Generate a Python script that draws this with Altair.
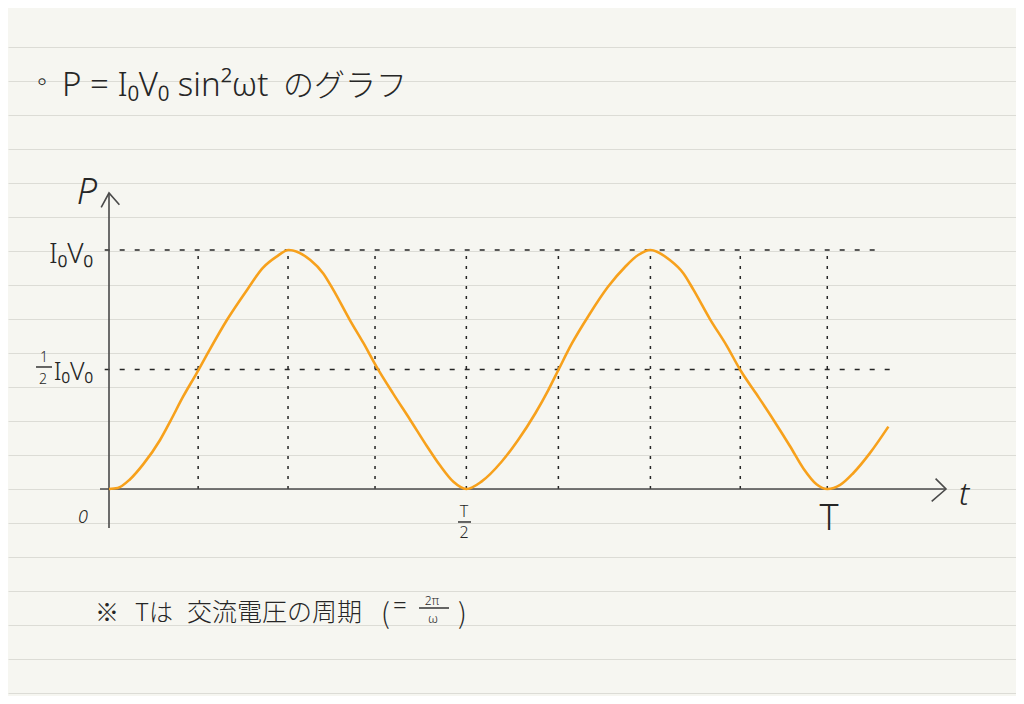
import altair as alt
import pandas as pd

# ---- values (t in units of T, P in units of I0V0) ----
curve_t = [0.0, 0.012, 0.029, 0.048, 0.071, 0.085, 0.103, 0.122, 0.136, 0.164, 0.192, 0.214, 0.233, 0.250,
           0.280, 0.298, 0.312, 0.335, 0.354, 0.372, 0.395, 0.419, 0.442, 0.460, 0.479, 0.497,
           0.518, 0.546, 0.569, 0.593, 0.611, 0.625, 0.644, 0.667, 0.694, 0.718, 0.736, 0.753,
           0.780, 0.799, 0.813, 0.836, 0.859, 0.878, 0.901, 0.924, 0.947, 0.966, 0.984, 0.999,
           1.017, 1.035, 1.058, 1.084]
curve_p = [0.0, 0.004, 0.040, 0.105, 0.205, 0.282, 0.386, 0.485, 0.561, 0.707, 0.833, 0.925, 0.972, 1.0,
           0.958, 0.902, 0.833, 0.707, 0.610, 0.512, 0.400, 0.289, 0.180, 0.100, 0.030, 0.0,
           0.031, 0.114, 0.205, 0.317, 0.414, 0.498, 0.610, 0.725, 0.846, 0.930, 0.979, 1.0,
           0.958, 0.902, 0.833, 0.710, 0.600, 0.498, 0.395, 0.290, 0.180, 0.085, 0.020, 0.0,
           0.017, 0.066, 0.149, 0.261]

guide_t = [0.124, 0.249, 0.370, 0.497, 0.625, 0.753, 0.878, 0.999]   # vertical dotted guides
level_p = [1.0, 0.5]                                                   # horizontal dashed guides
level_t0 = [-0.006, -0.006]
level_t1 = [1.070, 1.088]

# ---- layout (scale domains chosen so the drawing sits where the sketch has it) ----
W, H = 1008, 688
X0 = -101 / 719
X1 = X0 + W / 719
Y0 = (489 - 696) / 239
Y1 = (489 - 8) / 239
ruled = [k * 34 / 239 for k in range(-6, 14)]   # notebook ruling

INK = "#262626"
AXIS = "#4a4a4a"
ORANGE = "#f7a11c"
PAPER = "#f6f6f1"
JP = "Noto Sans CJK JP"
LAT = "Noto Sans"

xs = alt.Scale(domain=[X0, X1], nice=False, zero=False)
ys = alt.Scale(domain=[Y0, Y1], nice=False, zero=False)
yaxis = alt.Axis(values=ruled, grid=True, labels=False, ticks=False, domain=False,
                 gridColor="#dcdcd6", gridWidth=1.2, title=None)


def X(f):
    return alt.X(f, type="quantitative", scale=xs, axis=None)


def Y(f):
    return alt.Y(f, type="quantitative", scale=ys, axis=yaxis)


curve_df = pd.DataFrame({"t": curve_t, "P": curve_p})
guides_df = pd.DataFrame({"t": guide_t, "p0": [0.0] * len(guide_t), "p1": [1.0] * len(guide_t)})
levels_df = pd.DataFrame({"P": level_p, "t0": level_t0, "t1": level_t1})
axes_df = pd.DataFrame({"t0": [0.0, -0.0125], "t1": [0.0, 1.1641],
                        "p0": [-0.163, 0.0], "p1": [1.2385, 0.0]})

levels = alt.Chart(levels_df).mark_rule(color=INK, strokeWidth=1.5, strokeDash=[5, 10]).encode(
    x=X("t0"), x2="t1", y=Y("P"))
guides = alt.Chart(guides_df).mark_rule(color=INK, strokeWidth=1.5, strokeDash=[3, 7]).encode(
    x=X("t"), y=Y("p0"), y2="p1")
axes = alt.Chart(axes_df).mark_rule(color=AXIS, strokeWidth=1.6).encode(
    x=X("t0"), x2="t1", y=Y("p0"), y2="p1")
curve = alt.Chart(curve_df).mark_line(color=ORANGE, strokeWidth=2.6, interpolate="monotone").encode(
    x=X("t"), y=Y("P"))

arrow_up = alt.Chart(pd.DataFrame({"t": [0.0], "P": [1.2385]})).mark_point(
    shape="M -0.6 1.1 L 0 0 L 0.8 0.9", size=676, filled=False, color=AXIS, strokeWidth=1.6, opacity=1
).encode(x=X("t"), y=Y("P"))
arrow_right = alt.Chart(pd.DataFrame({"t": [1.1641], "P": [0.0]})).mark_point(
    shape="M -0.8 -0.8 L 0 0 L -1.1 0.95", size=676, filled=False, color=AXIS, strokeWidth=1.6, opacity=1
).encode(x=X("t"), y=Y("P"))


def texts(rows, align="center", style="normal", font=JP, weight=300):
    df = pd.DataFrame(rows, columns=["text", "t", "P", "size"])
    return alt.Chart(df).mark_text(align=align, baseline="alphabetic", font=font, fontStyle=style,
                                   fontWeight=weight, color=INK).encode(
        x=X("t"), y=Y("P"), text="text:N", size=alt.Size("size:Q", scale=None))


# label rows: text, t, P, font size
title_math = texts([["P = I₀V₀ sin²ωt", -0.0654, 1.645, 33]], align="left", font=LAT)
title_jp = texts([["のグラフ", 0.242, 1.645, 31]], align="left")
bullet = texts([["∘", -0.0932, 1.67, 26]], font="DejaVu Sans")

axis_titles = texts([["P", -0.0306, 1.1925, 36], ["t", 1.1892, -0.0669, 32]], style="italic", font=LAT)
zero = texts([["0", -0.0362, -0.1423, 18]], style="italic", font=LAT)
ytick = texts([["I₀V₀", -0.0223, 0.9456, 28], ["I₀V₀", -0.0223, 0.456, 25]], align="right", font=LAT)
half = texts([["1", -0.0904, 0.530, 14], ["2", -0.0918, 0.441, 14]], font=LAT)
xtick = texts([["T", 0.4937, -0.1170, 16], ["2", 0.4937, -0.2050, 16], ["T", 1.0014, -0.1715, 36]], font=LAT)

note_left = texts([["※", -0.0195, -0.5523, 24], ["Tは", 0.0362, -0.5523, 24],
                   ["交流電圧の周期", 0.1085, -0.5523, 25], ["(", 0.3783, -0.565, 28],
                   [")", 0.4854, -0.565, 28]], align="left")
note_eq = texts([["=", 0.4047, -0.5230, 24], ["2π", 0.4492, -0.4860, 12], ["ω", 0.4506, -0.5610, 13]], font=LAT)

bars_df = pd.DataFrame({"t0": [-0.1015, 0.4854, 0.4312], "t1": [-0.0793, 0.5035, 0.4729],
                        "P": [0.5105, -0.138, -0.4979]})
bars = alt.Chart(bars_df).mark_rule(color=INK, strokeWidth=1.4).encode(x=X("t0"), x2="t1", y=Y("P"))

chart = alt.layer(
    levels, guides, axes, curve, arrow_up, arrow_right,
    title_math, title_jp, bullet, axis_titles, zero, ytick, half, xtick, note_left, note_eq, bars
).properties(
    width=W, height=H, background=PAPER, padding=0,
    autosize=alt.AutoSizeParams(type="none")
).configure_view(stroke=None)

chart.save("out.html", embed_options={"renderer": "svg", "actions": False})
